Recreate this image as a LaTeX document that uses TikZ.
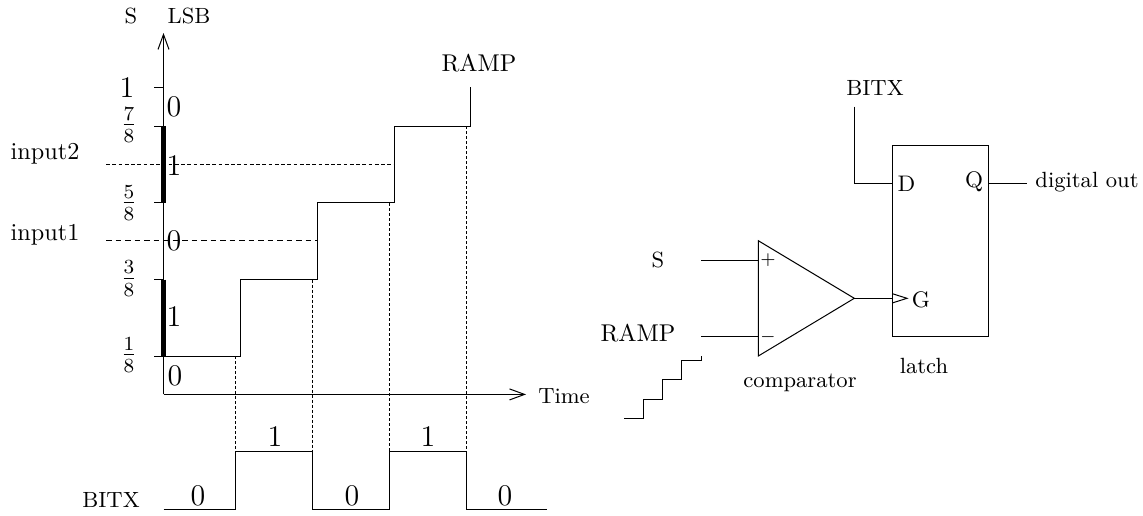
\documentclass[tikz,border=0pt]{standalone}
\usepackage{tikz}
\usetikzlibrary{arrows.meta}
\tikzset{
  lab/.style={inner sep=0pt, font=\fontsize{9.7}{11}\selectfont},
  digit/.style={inner sep=0pt, font=\fontsize{12}{14}\selectfont},
  smalllab/.style={inner sep=0pt, font=\fontsize{8.8}{10.5}\selectfont},
  fraclab/.style={inner sep=0pt, font=\large},
  guidefine/.style={dash pattern=on 1.5pt off 1pt},
  guidewide/.style={dash pattern=on 2.2pt off 1.6pt},
  drop/.style={dash pattern=on 1.2pt off 0.8pt},
  bar/.style={line width=1.9pt},
  barb/.style={-{Straight Barb[length=6pt,width=4.4pt,line width=0.4pt]}}
}
\begin{document}
\begin{tikzpicture}[x=0.4pt, y=-0.4pt]
\useasboundingbox (0, 0) rectangle (1143, 515);
\coordinate (orig) at (163.5, 394.4);
\coordinate (axisy) at (163.5, 33);
\coordinate (axisx) at (526, 394.4);
\coordinate (tick1) at (154, 87.6);
\coordinate (tick7) at (154, 126);
\coordinate (tick5) at (154, 202.8);
\coordinate (tick3) at (154, 279.6);
\coordinate (tick0) at (154, 356);
\coordinate (bar7) at (163.5, 126);
\coordinate (bar5) at (163.5, 202.8);
\coordinate (bar3) at (163.5, 279.6);
\coordinate (bar0) at (163.5, 356);
\draw[barb] (orig) -- (axisy);
\draw[barb] (orig) -- (axisx);
\draw (tick1) -- (163.5, 87.6);
\draw (tick7) -- (bar7);
\draw (tick5) -- (bar5);
\draw (tick3) -- (bar3);
\draw (tick0) -- (bar0);
\draw[bar] (bar7) -- (bar5);
\draw[bar] (bar3) -- (bar0);

\draw (bar0) -- (240.5, 356) -- (240.5, 279.6) -- (317, 279.6) -- (317, 202.8) -- (394, 202.8) -- (394, 126) -- (470.5, 126) -- (470.5, 87);
\draw[guidefine] (106, 164.4) -- (394, 164.4);
\draw[guidewide] (106, 240.6) -- (317, 240.6);
\draw[drop] (235.7, 356) -- (235.7, 451.7);
\draw[drop] (312.6, 279.6) -- (312.6, 451.7);
\draw[drop] (389.2, 202.8) -- (389.2, 451.7);
\draw[drop] (466.2, 126) -- (466.2, 451.7);
\draw (163.7, 509.3) -- (235.7, 509.3) -- (235.7, 451.7) -- (312.6, 451.7) -- (312.6, 509.3) -- (389.2, 509.3) -- (389.2, 451.7) -- (466.2, 451.7) -- (466.2, 509.3) -- (547, 509.3);

\node[smalllab] (sname) at (131, 16) {S};
\node[smalllab] (lsbname) at (189, 16) {LSB};
\node[digit] (one) at (127, 88) {1};
\node[fraclab] (sevenths) at (129, 125) {$\frac{7}{8}$};
\node[fraclab] (fifths) at (129, 203) {$\frac{5}{8}$};
\node[fraclab] (thirds) at (129, 278.6) {$\frac{3}{8}$};
\node[fraclab] (firsts) at (129, 355) {$\frac{1}{8}$};
\node[lab] (inputb) at (45, 154) {input2};
\node[lab] (inputa) at (45, 235) {input1};
\node[digit] (lsba) at (174, 107) {0};
\node[digit] (lsbb) at (174, 166) {1};
\node[digit] (lsbc) at (174, 241) {0};
\node[digit] (lsbd) at (174, 317) {1};
\node[digit] (lsbe) at (175, 376) {0};
\node[lab] (rampname) at (479, 63) {RAMP};
\node[smalllab] (timename) at (564, 396) {Time};
\node[smalllab] (bitxname) at (111, 500) {BITX};
\node[digit] (bita) at (198, 496) {0};
\node[digit] (bitb) at (275, 437) {1};
\node[digit] (bitc) at (352, 496) {0};
\node[digit] (bitd) at (428, 437) {1};
\node[digit] (bite) at (505, 496) {0};

\coordinate (cmpup) at (758.3, 240.7);
\coordinate (cmpdown) at (758.3, 356);
\coordinate (cmptip) at (854.3, 298.3);
\coordinate (cmpplus) at (758.3, 260);
\coordinate (cmpminus) at (758.3, 336.7);
\coordinate (sfree) at (701, 260);
\coordinate (rampfree) at (701, 336.7);
\coordinate (gport) at (892.7, 298.3);
\draw (cmpup) -- (cmpdown) -- (cmptip) -- cycle;
\draw (sfree) -- (cmpplus);
\draw (rampfree) -- (cmpminus);
\node[draw, inner sep=0pt, minimum width=38.24pt, minimum height=76.68pt] (latch) at (940.5, 240.9) {};
\draw (cmptip) -- (gport);
\draw (gport |- 0, 293.8) -- (907, 298.3) -- (gport |- 0, 302.8);
\coordinate (bitxfree) at (854.3, 106.7);
\coordinate (dbend) at (854.3, 183);
\coordinate (dport) at (892.7, 183);
\coordinate (qport) at (988.3, 183);
\coordinate (qfree) at (1027, 183);
\draw (bitxfree) -- (dbend) -- (dport);
\draw (qport) -- (qfree);
\draw (624, 418.3) -- (643.3, 418.3) -- (643.3, 399) -- (662.5, 399) -- (662.5, 379.7) -- (681.7, 379.7) -- (681.7, 360.7) -- (701, 360.7) -- (701, 356);

\node[smalllab] (sin) at (658, 260) {S};
\node[lab] (rampin) at (638, 333) {RAMP};
\node[inner sep=0pt, font=\scriptsize] (plus) at (768, 260) {$+$};
\node[inner sep=0pt, font=\scriptsize] (minus) at (768, 337) {$-$};
\node[smalllab] (cmpname) at (800, 383) {comparator};
\node[smalllab] (latchname) at (924, 366) {latch};
\node[smalllab] (bitxin) at (875, 88) {BITX};
\node[digit] (dname) at (906.5, 184) {\small D};
\node[digit] (qname) at (974, 182) {\small Q};
\node[digit] (gname) at (921, 300) {\small G};
\node[smalllab] (digout) at (1087, 182) {digital out};
\end{tikzpicture}
\end{document}
